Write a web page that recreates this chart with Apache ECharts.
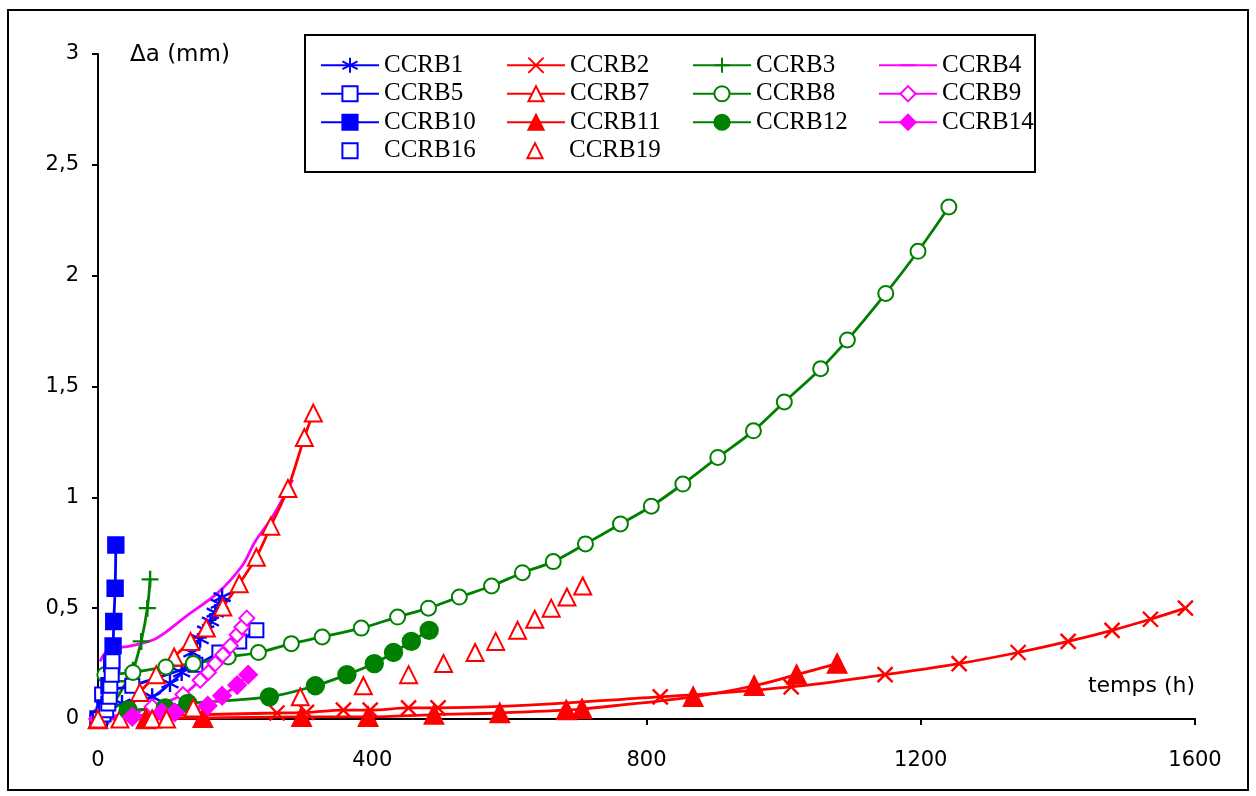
<!DOCTYPE html>
<html>
<head>
<meta charset="utf-8">
<script src="https://cdn.jsdelivr.net/npm/echarts@6/dist/echarts.min.js"></script>
<style>
  html, body { margin: 0; padding: 0; background: #fff; }
  #chart { width: 1256px; height: 796px; }
</style>
</head>
<body>
<div id="chart"></div>
<script>
// Crack growth Δa (mm) versus time (h) for each specimen
const xTicks = [0, 400, 800, 1200, 1600];
const yTicks = [0, 0.5, 1, 1.5, 2, 2.5, 3];
const yTickLabels = ['0', '0,5', '1', '1,5', '2', '2,5', '3'];

const ccrb1_t  = [0, 35, 79, 105, 122, 137, 149, 157, 164, 171, 177, 181];
const ccrb1_da = [0, 0.07, 0.1, 0.16, 0.21, 0.3, 0.36, 0.4, 0.44, 0.48, 0.52, 0.55];

const ccrb2_t  = [5, 261, 304, 358, 397, 453, 496, 820, 1011, 1148, 1256, 1342, 1415, 1479, 1535, 1586];
const ccrb2_da = [0.01, 0.027, 0.03, 0.04, 0.04, 0.05, 0.05, 0.1, 0.145, 0.2, 0.25, 0.3, 0.35, 0.4, 0.45, 0.5];

const ccrb3_t  = [0, 20, 42, 51, 63, 72, 76];
const ccrb3_da = [0, 0.06, 0.17, 0.22, 0.35, 0.5, 0.63];

const ccrb4_t  = [3, 15, 48, 79, 98, 127, 175, 210, 229, 254, 284];
const ccrb4_da = [0.26, 0.31, 0.33, 0.355, 0.39, 0.46, 0.57, 0.69, 0.8, 0.91, 1.08];

const ccrb5_t  = [0, 6, 50, 142, 177, 206, 231];
const ccrb5_da = [0, 0.11, 0.15, 0.245, 0.3, 0.35, 0.4];

const ccrb7_t  = [0, 32, 61, 85, 111, 135, 158, 182, 206, 231, 252, 277, 301, 314];
const ccrb7_da = [0, 0, 0.12, 0.2, 0.28, 0.35, 0.41, 0.505, 0.61, 0.73, 0.87, 1.04, 1.27, 1.38];

const ccrb8_t  = [10, 51, 99, 139, 190, 234, 282, 327, 384, 437, 482, 527, 574, 619, 664, 711, 762, 807, 853, 904, 956, 1001, 1054, 1093, 1149, 1196, 1241];
const ccrb8_da = [0.2, 0.21, 0.235, 0.25, 0.28, 0.3, 0.34, 0.37, 0.41, 0.46, 0.5, 0.55, 0.6, 0.66, 0.71, 0.79, 0.88, 0.96, 1.06, 1.18, 1.3, 1.43, 1.58, 1.71, 1.92, 2.11, 2.31];

const ccrb9_t  = [0, 50, 79, 124, 149, 161, 171, 182, 193, 203, 210, 217];
const ccrb9_da = [0, 0.03, 0.055, 0.11, 0.175, 0.21, 0.25, 0.29, 0.33, 0.38, 0.415, 0.455];

const ccrb10_t  = [0, 10, 16, 20, 22, 23, 25, 26];
const ccrb10_da = [0, 0.05, 0.15, 0.25, 0.33, 0.44, 0.59, 0.785];

const ccrb11_t  = [0, 70, 153, 297, 394, 490, 586, 683, 706, 868, 957, 1019, 1078];
const ccrb11_da = [0, 0, 0.005, 0.01, 0.01, 0.02, 0.027, 0.04, 0.045, 0.1, 0.15, 0.2, 0.25];

const ccrb12_t  = [44, 98, 131, 250, 317, 363, 403, 431, 457, 483];
const ccrb12_da = [0.04, 0.05, 0.07, 0.1, 0.15, 0.2, 0.25, 0.3, 0.35, 0.4];

const ccrb14_t  = [0, 50, 93, 112, 160, 181, 203, 219];
const ccrb14_da = [0, 0.01, 0.03, 0.03, 0.06, 0.105, 0.153, 0.2];

const ccrb16_t  = [3, 8, 12, 15, 17, 18, 20, 21];
const ccrb16_da = [0, 0.02, 0.04, 0.07, 0.1, 0.15, 0.2, 0.26];

const ccrb19_t  = [0, 79, 100, 139, 295, 387, 453, 504, 550, 580, 612, 637, 661, 684, 707];
const ccrb19_da = [0, 0, 0, 0.05, 0.1, 0.15, 0.2, 0.25, 0.3, 0.35, 0.4, 0.45, 0.5, 0.55, 0.6];

const BLUE = '#0000ff', RED = '#ff0000', GREEN = '#008000', MAGENTA = '#ff00ff';

// stroked marker outlines (drawn by the border stroke)
const SYM_STAR  = 'path://M5,0L5,10M0.67,2.5L9.33,7.5M0.67,7.5L9.33,2.5';
const SYM_CROSS = 'path://M0,0L10,10M10,0L0,10';
const SYM_PLUS  = 'path://M5,0L5,10M0,5L10,5';

function pairs(t, v) { return t.map((x, i) => [x, v[i]]); }

function lineSeries(name, t, v, color, symbol, size, opts) {
  opts = opts || {};
  return {
    name: name,
    type: 'line',
    data: pairs(t, v),
    smooth: opts.noLine ? false : 0.35,
    symbol: symbol,
    symbolSize: size,
    showSymbol: opts.showSymbol !== false,
    lineStyle: opts.noLine ? { width: 0, opacity: 0, color: color } : { width: 2.8, color: color },
    itemStyle: { color: color, borderColor: color, borderWidth: 2.4 },
    emphasis: { disabled: true },
    animation: false,
    z: 2
  };
}

const series = [
  lineSeries('CCRB1', ccrb1_t, ccrb1_da, BLUE, SYM_STAR, 17),
  lineSeries('CCRB2', ccrb2_t, ccrb2_da, RED, SYM_CROSS, 15),
  lineSeries('CCRB3', ccrb3_t, ccrb3_da, GREEN, SYM_PLUS, 17),
  lineSeries('CCRB4', ccrb4_t, ccrb4_da, MAGENTA, 'line', 10, { showSymbol: false }),
  lineSeries('CCRB5', ccrb5_t, ccrb5_da, BLUE, 'emptyRect', 14),
  lineSeries('CCRB7', ccrb7_t, ccrb7_da, RED, 'emptyTriangle', 17),
  lineSeries('CCRB8', ccrb8_t, ccrb8_da, GREEN, 'emptyCircle', 15),
  lineSeries('CCRB9', ccrb9_t, ccrb9_da, MAGENTA, 'emptyDiamond', 15),
  lineSeries('CCRB10', ccrb10_t, ccrb10_da, BLUE, 'rect', 15),
  lineSeries('CCRB11', ccrb11_t, ccrb11_da, RED, 'triangle', 18),
  lineSeries('CCRB12', ccrb12_t, ccrb12_da, GREEN, 'circle', 17),
  lineSeries('CCRB14', ccrb14_t, ccrb14_da, MAGENTA, 'diamond', 17),
  lineSeries('CCRB16', ccrb16_t, ccrb16_da, BLUE, 'emptyRect', 14, { noLine: true }),
  lineSeries('CCRB19', ccrb19_t, ccrb19_da, RED, 'emptyTriangle', 17, { noLine: true })
];

const AXIS_FONT = 'DejaVu Sans';

const option = {
  backgroundColor: '#fff',
  animation: false,
  // four columns: each item is 58 (icon) + 5 + 122 (fixed text box) = 185 px wide
  legend: {
    data: series.map(s => s.name),
    orient: 'horizontal',
    left: 320,
    top: 51,
    width: 745,
    padding: 0,
    itemWidth: 58,
    itemHeight: 19,
    itemGap: 0,
    selectedMode: false,
    z: 10,
    textStyle: {
      fontFamily: 'Liberation Serif',
      fontSize: 25,
      lineHeight: 28.5,
      width: 122,
      color: '#000'
    }
  },
  grid: { left: 98, right: 61, top: 54, bottom: 77, containLabel: false },
  xAxis: {
    type: 'value',
    min: xTicks[0],
    max: xTicks[xTicks.length - 1],
    interval: 400,
    axisLine: { lineStyle: { color: '#000', width: 2 } },
    axisTick: { show: true, inside: false, length: 6, lineStyle: { color: '#000', width: 2 } },
    axisLabel: { margin: 31, color: '#000', fontSize: 21, fontFamily: AXIS_FONT,
      formatter: (v) => String(v) },
    splitLine: { show: false }
  },
  yAxis: {
    type: 'value',
    min: yTicks[0],
    max: yTicks[yTicks.length - 1],
    interval: 0.5,
    axisLine: { show: true, lineStyle: { color: '#000', width: 2 } },
    axisTick: { show: true, inside: false, length: 6, lineStyle: { color: '#000', width: 2 } },
    axisLabel: {
      margin: 19, color: '#000', fontSize: 21, fontFamily: AXIS_FONT,
      padding: [4, 0, 0, 0],
      formatter: (v) => yTickLabels[yTicks.indexOf(v)]
    },
    splitLine: { show: false }
  },
  graphic: [
    { type: 'rect', z: -10, shape: { x: 8, y: 10, width: 1240, height: 780 },
      style: { fill: '#fff', stroke: '#000', lineWidth: 2 }, silent: true },
    { type: 'rect', z: 1, shape: { x: 305, y: 35, width: 730, height: 137 },
      style: { fill: '#fff', stroke: '#000', lineWidth: 2 }, silent: true },
    { type: 'text', z: 5, left: 130, top: 44,
      style: { text: 'Δa (mm)', font: '23px "DejaVu Sans"', fill: '#000' }, silent: true },
    { type: 'text', z: 5, right: 61, top: 675,
      style: { text: 'temps (h)', font: '22px "DejaVu Sans"', fill: '#000', textAlign: 'right' }, silent: true }
  ],
  series: series
};

const chart = echarts.init(document.getElementById('chart'), null, { renderer: 'canvas' });
chart.setOption(option);
</script>
</body>
</html>
